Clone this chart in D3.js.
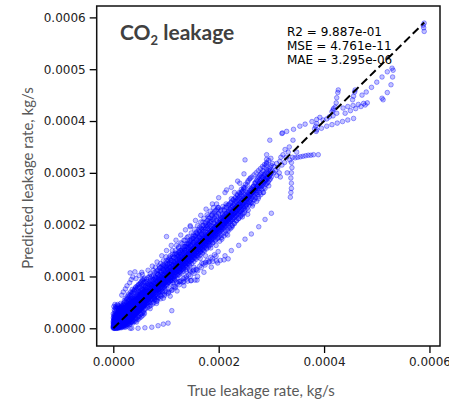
<!DOCTYPE html>
<html>
<head>
<meta charset="utf-8">
<script src="https://cdn.jsdelivr.net/npm/d3@7"></script>
<style>
html,body{margin:0;padding:0;background:#fff;}
svg{display:block;}
</style>
</head>
<body>
<svg id="chart" width="449" height="404"></svg>
<script>
// ---- data (values in 1e-6 kg/s, flat x,y pairs) ----
const coreNearOrigin = [
0,0,0,2,0,5,0,9,0,14,0,20,1,1,1,3,1,7,1,11,1,16,1,24,2,0,2,2,2,4,2,8,2,13,2,18,2,27,3,1,3,3,3,6,3,10,3,15,3,21,4,2,4,4,4,7,4,12,4,17,4,30,5,1,5,3,5,5,5,9,5,14,5,19,5,25,6,2,6,4,6,7,6,11,6,16,6,22,6,35,7,3,7,5,7,8,7,12,7,18,7,28,8,2,8,4,8,7,8,10,8,14,8,20,8,26,9,3,9,6,9,9,9,12,9,16,9,23,9,38,10,4,10,6,10,9,10,13,10,18,10,24,10,31,3,0,6,0,8,1,9,1,10,2,4,9,7,15,1,42,4,40,
11,5,11,8,11,11,11,14,11,19,11,27,12,4,12,7,12,10,12,13,12,17,12,22,12,33,13,6,13,9,13,12,13,15,13,20,13,26,14,5,14,8,14,11,14,14,14,18,14,24,14,40,15,7,15,10,15,13,15,16,15,21,15,29,16,6,16,9,16,12,16,15,16,19,16,25,16,34,17,8,17,11,17,14,17,17,17,22,17,28,18,7,18,10,18,13,18,17,18,20,18,26,18,44,19,9,19,12,19,15,19,18,19,23,19,31,20,8,20,11,20,14,20,17,20,21,20,27,20,36,13,2,16,3,19,5,15,45,
21,10,21,14,21,17,21,20,21,25,21,33,22,9,22,13,22,16,22,19,22,23,22,29,23,12,23,15,23,18,23,22,23,27,23,40,24,11,24,14,24,18,24,21,24,25,24,31,25,13,25,16,25,20,25,24,25,28,25,36,26,12,26,17,26,21,26,24,26,30,26,48,27,15,27,19,27,23,27,26,27,33,28,14,28,18,28,22,28,27,28,31,28,39,29,16,29,20,29,24,29,28,29,35,30,15,30,19,30,23,30,27,30,32,30,42,24,6,28,9
];
const originFill = [
0,3,1,6,2,10,0,12,3,17,1,19,2,23,4,26,0,28,3,33,5,38,2,36,6,13,7,20,4,22,8,30,6,28,9,34,5,43,7,41,10,37,8,46,3,46,11,41,12,38,9,44,13,30,14,33,11,23,15,35,12,29,16,42,17,38,18,33,19,40,14,48,20,45,21,40,22,37,23,45,24,42,25,50,26,40,27,44,28,47,29,52,30,56,31,48,32,54,33,60,34,57,35,64,21,54,24,58,27,62,29,66,33,70,36,75,38,68,40,72,42,78,44,74,46,82,48,85,50,80,52,88,54,84,56,92,58,95,60,90,16,64,19,70,23,76,26,82,31,88,34,94,37,99,43,96,49,102,55,104,
5,0,7,1,9,0,11,2,12,1,14,3,15,1,17,4,18,2,20,5,21,3,22,6,23,2,25,7,26,4,27,8,29,10,30,7,31,12,32,9,33,13,34,11,36,14,37,10,38,16,39,13,41,18,42,14,43,20,44,12,46,22,47,17,49,24,50,20,52,27,53,22,55,30,56,25,57,33,59,28,60,36,
1,2,2,5,3,4,4,6,5,7,6,9,7,9,8,11,9,10,10,11,11,12,12,15,13,14,14,16,15,18,16,17,17,19,18,22,19,20,20,22,21,23,22,25,23,24,24,27,25,26,26,28,27,29,28,30,29,31,30,33,31,32,32,35,33,34,34,37,35,36,36,39,37,38,38,41,39,40,40,43,41,42,42,45,43,44,44,47,45,46,46,49,47,48,48,51,49,50,50,53,51,52,52,55,53,54,54,57,55,56,56,59,57,58,58,61,59,60,60,63,
1,4,2,7,3,8,4,10,5,11,6,13,7,13,8,16,9,15,10,16,11,17,12,19,13,19,14,21,15,23,16,22,17,24,18,24,19,26,20,29,21,28,22,31,23,30,24,33,25,32,26,35,27,36,28,36,29,38,30,40,31,40,32,42,33,43,34,43,35,45,36,46,37,47,38,49,39,48,40,50,41,51,42,52,43,53,44,55,45,54,46,56,47,57,48,59,49,58,50,61,51,62,52,63,53,61,54,65,55,64,56,67,57,66,58,69,59,68,60,70,
2,1,4,5,6,8,8,9,10,7,12,11,14,12,16,14,18,15,20,18,22,20,24,22,26,23,28,25,30,26,32,28,34,30,36,31,38,33,40,35,42,37,44,39,46,40,48,42,50,44,52,46,54,48,56,50,58,51,60,54,3,12,5,16,7,22,9,27,11,31,13,35,15,39,17,43,19,47,21,50,23,52,25,55,27,57,29,60,31,63,33,65,35,68,37,70,39,73,41,75,43,80,45,77,47,79,49,84,51,86,53,90,55,94,57,88,59,97,
1,9,2,15,3,19,4,14,5,22,6,18,7,25,8,23,9,19,10,28,11,24,12,26,13,33,14,29,15,26,16,30,17,35,18,30,19,36,20,32,21,37,22,34,23,36,24,38,25,41,26,37,27,40,28,43,29,45,30,47,31,44,32,47,33,50,34,46,35,52,36,55,37,51,38,54,39,57,40,60,41,56,42,59,43,62,44,58,45,64,46,66,47,62,48,65,49,68,50,71,51,66,52,70,53,73,54,69,55,76,56,74,57,79,58,72,59,76,60,80
];
const coreLow = [
31,18,31,22,31,26,31,30,31,36,32,17,32,21,32,25,32,29,32,33,32,44,32,107,33,20,33,24,33,28,33,32,33,39,34,19,34,23,34,27,34,31,34,35,34,50,35,21,35,25,35,29,35,34,35,38,35,46,36,20,36,24,36,28,36,33,36,37,36,42,37,23,37,27,37,31,37,35,37,40,37,58,38,22,38,26,38,30,38,34,38,39,38,47,39,25,39,29,39,33,39,37,39,43,40,24,40,28,40,32,40,36,40,41,40,52,35,12,41,109,54,108,
41,27,41,31,41,35,41,39,41,45,42,26,42,30,42,34,42,38,42,43,42,55,43,29,43,33,43,37,43,41,43,48,44,28,44,32,44,36,44,40,44,45,44,62,45,31,45,35,45,39,45,43,45,50,46,30,46,34,46,38,46,42,46,47,46,57,47,33,47,37,47,41,47,45,47,52,48,32,48,36,48,40,48,44,48,49,48,70,49,35,49,39,49,43,49,47,49,54,50,34,50,38,50,42,50,46,50,51,50,60,44,18,48,22,
51,37,51,41,51,45,51,49,51,56,52,36,52,40,52,44,52,48,52,53,52,66,53,39,53,43,53,47,53,51,53,58,54,38,54,42,54,46,54,50,54,55,54,75,55,41,55,45,55,49,55,53,55,60,56,40,56,44,56,48,56,52,56,57,56,68,57,43,57,47,57,51,57,55,57,62,58,42,58,46,58,50,58,54,58,59,58,82,59,45,59,49,59,53,59,57,59,64,60,44,60,48,60,52,60,56,60,61,60,72,54,28,58,30
];
const coreMid = [
62,47,62,52,62,57,62,62,62,67,62,74,62,88,64,49,64,54,64,59,64,64,64,69,64,78,66,50,66,56,66,61,66,66,66,71,66,82,66,98,68,52,68,58,68,63,68,68,68,73,68,80,70,54,70,60,70,65,70,70,70,75,70,86,70,105,72,56,72,62,72,67,72,72,72,77,72,84,74,58,74,64,74,69,74,74,74,79,74,91,76,60,76,66,76,71,76,76,76,81,76,88,76,112,78,62,78,68,78,73,78,78,78,83,78,95,80,64,80,70,80,75,80,80,80,85,80,92,80,118,65,40,71,44,77,50,79,56,63,95,69,100,
82,66,82,72,82,77,82,82,82,87,82,97,84,68,84,74,84,79,84,84,84,90,84,104,86,70,86,76,86,81,86,86,86,92,86,99,88,72,88,78,88,83,88,88,88,94,88,110,90,74,90,80,90,85,90,90,90,96,90,103,90,125,92,76,92,82,92,87,92,92,92,98,92,108,94,78,94,84,94,89,94,94,94,100,94,115,96,80,96,86,96,91,96,96,96,102,96,110,98,82,98,88,98,93,98,98,98,104,98,120,100,84,100,90,100,95,100,100,100,106,100,114,100,138,85,58,91,62,97,66,99,72,87,120,95,130,
102,85,102,92,102,98,102,104,102,110,102,122,104,88,104,94,104,100,104,106,104,113,104,130,106,89,106,96,106,102,106,108,106,115,106,126,108,92,108,98,108,104,108,110,108,117,108,140,110,93,110,100,110,106,110,112,110,119,110,131,112,96,112,102,112,108,112,114,112,121,112,150,114,97,114,104,114,110,114,116,114,123,114,136,116,100,116,106,116,112,116,118,116,126,118,101,118,108,118,114,118,120,118,128,118,145,120,104,120,110,120,116,120,122,120,130,120,160,105,70,111,74,117,80,101,177
];
const midFill = [
61,58,63,66,65,60,67,70,69,64,71,78,73,68,75,82,77,72,79,86,81,76,83,90,85,80,87,94,89,84,91,99,93,88,95,104,97,92,99,108,101,96,103,113,105,100,107,118,109,104,111,123,113,108,115,128,117,112,119,133,121,116,123,138,125,120,127,143,129,124,131,148,133,128,135,153,137,132,139,158,141,136,143,163,145,140,147,168,149,144,151,173,153,148,155,178,157,152,159,183,161,156,163,188,165,160,167,193,169,164,171,198,173,168,175,203,177,172,179,208,181,176,183,213,185,180,187,218,189,184,191,223,193,188,195,228,197,192,199,233,
61,38,65,45,68,42,72,50,75,47,79,55,83,52,86,60,90,57,93,66,97,63,101,70,104,67,108,76,111,73,115,81,118,78,122,87,125,84,129,92,132,89,136,98,139,95,143,103,146,100,150,109,153,106,157,114,160,111,164,120,167,117,171,125,174,122,178,131,181,128,185,137,188,134,192,142,195,139,199,148,
61,82,64,90,67,85,70,96,73,92,76,102,79,98,82,110,85,104,88,116,91,111,94,122,97,118,100,130,103,124,106,136,109,131,112,143,115,137,118,150,121,143,124,157,127,150,130,163,133,157,136,170,139,163,142,177,145,170,148,184,151,177,154,191,157,184,160,198,163,191,166,205,169,198,172,212,175,205,178,219,181,212,184,226,187,219,190,233,193,226,196,240,199,233,
61,61,63,62,65,66,67,66,69,70,71,70,73,74,75,74,77,78,79,78,81,82,83,82,85,86,87,86,89,90,91,90,93,94,95,94,97,98,99,98,101,102,103,102,105,106,107,106,109,110,111,110,113,114,115,114,117,118,119,118,121,122,123,122,125,126,127,126,129,130,131,130,133,134,135,134,137,138,139,138,141,142,143,142,145,146,147,146,149,150,151,150,153,154,155,154,157,158,159,158,161,162,163,162,165,166,167,166,169,170,171,170,173,174,175,174,177,178,179,178,181,182,183,182,185,186,187,186,189,190,191,190,193,194,195,194,197,198,199,198,
63,71,66,54,68,88,71,62,74,84,77,58,80,99,82,61,85,95,88,70,90,108,93,79,95,113,98,76,101,118,103,88,106,124,109,92,111,98,114,129,116,95,119,136,122,102,124,140,127,108,130,146,133,115,135,150,138,118,141,156,144,123,146,160,149,131,152,166,155,135,158,170,160,140,163,176,166,146,168,181,171,150,174,186,177,155,180,192,182,160,185,197,188,165,191,203,194,171,196,208,199,175,
66,112,74,120,83,128,92,140,101,150,110,160,119,170,128,180,137,190,146,198,156,208,166,218,176,230,188,240,200,252,212,262,224,272,236,284,248,298,
70,38,82,48,95,58,108,62,121,72,134,82,147,92,160,100,172,108,186,118,198,126,212,140,224,150,238,160,250,172,262,182,276,196,288,210,300,222
];
const bandExtra = [
62,79,63,50,64,73,65,86,67,59,68,77,69,49,70,91,71,83,72,64,73,101,74,55,75,69,76,94,77,87,78,59,79,108,80,73,81,95,82,53,83,106,84,62,85,112,86,74,87,101,88,64,89,117,90,70,91,88,92,119,93,71,94,104,95,86,96,122,97,79,98,113,99,90,100,126,101,82,102,116,103,95,104,132,105,90,106,120,107,98,108,134,109,86,110,127,111,105,112,138,113,92,114,121,115,101,116,142,117,93,118,124,119,108,120,144,
121,97,122,128,123,111,124,147,125,103,126,132,127,115,128,150,129,106,130,137,131,119,132,154,133,110,134,141,135,124,136,158,137,113,138,146,139,127,140,162,141,118,142,149,143,131,144,166,145,121,146,153,147,135,148,170,149,125,150,157,151,139,152,174,153,129,154,161,155,143,156,178,157,133,158,165,159,147,160,182,161,137,162,169,163,151,164,186,165,141,166,173,167,155,168,190,169,145,170,177,171,159,172,194,173,149,174,181,175,163,176,198,177,153,178,185,179,167,180,202,181,157,182,189,183,171,184,206,185,161,186,193,187,175,188,210,189,165,190,197,191,179,192,214,193,169,194,201,195,183,196,218,197,173,198,205,199,187,200,222,
201,177,202,210,203,190,204,226,205,180,206,214,207,194,208,229,209,184,210,218,211,198,212,233,213,188,214,222,215,202,216,237,217,191,218,226,219,206,220,240,221,195,222,230,223,210,224,244,225,199,226,234,227,214,228,248,229,203,230,238,231,218,232,252,233,207,234,242,235,222,236,256,237,211,238,246,239,226,240,260,241,215,242,250,243,230,244,264,245,219,246,254,247,234,248,268,249,223,250,258,252,238,254,262,256,228,258,266,260,242,262,270,264,236,266,274,268,248,270,280,272,245,274,284,276,254,278,288,280,258,282,292,284,262,286,296,288,270,290,292,292,280,294,298,296,286,298,304,300,292
];
const coreUpper = [
122,105,122,112,122,118,122,124,122,132,122,141,124,108,124,114,124,120,124,126,124,134,124,155,126,109,126,116,126,122,126,128,126,136,126,146,128,112,128,118,128,124,128,130,128,138,128,165,130,113,130,120,130,126,130,132,130,140,130,151,132,116,132,122,132,128,132,134,132,143,134,117,134,124,134,130,134,136,134,145,134,170,136,120,136,126,136,132,136,138,136,147,136,158,138,121,138,128,138,134,138,140,138,150,140,124,140,130,140,136,140,142,140,152,140,175,125,90,133,96,139,100,
142,125,142,132,142,138,142,144,142,153,142,163,144,128,144,134,144,140,144,146,144,156,146,129,146,136,146,142,146,148,146,158,146,196,148,132,148,138,148,144,148,150,148,160,148,172,150,133,150,140,150,146,150,152,150,162,152,136,152,142,152,148,152,154,152,165,152,180,154,137,154,144,154,150,154,156,154,167,156,140,156,146,156,152,156,158,156,169,158,141,158,148,158,154,158,160,158,172,158,186,160,144,160,150,160,156,160,162,160,174,145,112,153,118,
162,145,162,152,162,158,162,164,162,176,164,148,164,154,164,160,164,166,164,178,164,195,166,149,166,156,166,162,166,168,166,181,168,152,168,158,168,164,168,170,168,183,170,153,170,160,170,166,170,172,170,186,170,205,172,156,172,162,172,168,172,174,172,188,174,157,174,164,174,170,174,176,174,191,176,160,176,166,176,172,176,178,176,193,178,161,178,168,178,174,178,180,178,196,180,164,180,170,180,176,180,182,180,198,180,215,165,135,175,140,
182,166,182,172,182,178,182,185,182,200,184,168,184,174,184,180,184,187,184,203,186,170,186,176,186,182,186,189,186,206,188,172,188,178,188,184,188,191,188,222,190,174,190,180,190,186,190,193,190,209,192,176,192,182,192,188,192,195,192,212,194,178,194,184,194,190,194,197,196,180,196,186,196,192,196,199,196,216,198,182,198,188,198,194,198,201,198,230,200,184,200,190,200,196,200,204,200,220,185,155,195,160
];
const coreTop = [
202,186,202,193,202,200,202,207,204,188,204,195,204,202,204,210,204,228,206,190,206,197,206,204,206,212,208,192,208,199,208,206,208,214,208,235,210,194,210,201,210,208,210,216,212,196,212,203,212,210,212,219,214,198,214,205,214,212,214,221,214,240,216,200,216,207,216,214,216,223,218,202,218,209,218,216,218,225,220,204,220,211,220,218,220,227,215,267,205,175,217,180,
222,206,222,213,222,220,222,230,224,208,224,215,224,222,224,233,224,250,226,210,226,218,226,225,226,236,228,212,228,220,228,228,228,239,230,214,230,222,230,230,230,242,230,262,232,216,232,224,232,232,232,245,234,218,234,226,234,234,234,247,236,220,236,228,236,236,236,250,238,222,238,231,238,239,238,252,240,225,240,233,240,241,240,255,240,280,225,195,
242,226,242,235,242,243,242,258,244,228,244,237,244,246,244,262,246,230,246,239,246,248,246,265,248,232,248,242,248,251,248,270,250,235,250,244,250,253,250,272,250,325,252,237,252,246,252,256,254,240,254,249,254,258,254,276,256,242,256,251,256,261,256,285,258,244,258,253,258,263,260,247,260,256,260,266,260,290,245,215,255,220,
262,250,262,259,262,268,264,252,264,262,264,272,266,255,266,264,266,274,268,258,268,268,268,280,270,260,270,270,270,282,272,262,272,273,272,286,274,265,274,276,274,290,276,268,276,279,276,292,278,270,278,282,278,295,280,273,280,285,280,298,282,275,282,288,282,300,284,278,284,291,284,304,286,281,286,294,286,310,288,284,288,297,290,287,290,300,290,315,291,306,291,318,291,326,291,335,292,290,292,302,294,292,294,305,296,295,296,308,298,297,298,311,300,300,300,314,302,303,302,318,297,363,265,240,275,250,285,262,295,275
];
const topFill = [
201,198,203,212,205,194,207,220,209,203,211,228,213,207,215,234,217,212,219,238,221,216,223,242,225,220,227,248,229,224,231,252,233,229,235,258,237,233,239,262,241,237,243,268,245,241,247,272,249,246,251,278,253,250,255,282,257,254,259,288,261,258,263,292,265,262,267,296,269,266,271,300,273,270,275,304,277,274,279,308,281,278,283,312,285,282,287,316,289,286,291,320,293,290,295,324,297,294,299,328,
202,168,206,172,210,178,214,182,218,188,222,192,226,198,230,202,234,208,238,212,242,218,246,222,250,228,254,232,258,238,262,242,266,248,270,252,274,258,278,262,282,268,286,272,290,278,294,282,298,288,
203,203,207,207,211,211,215,215,219,219,223,223,227,227,231,231,235,235,239,239,243,243,247,247,251,251,255,255,259,259,263,263,267,267,271,271,275,275,279,279,283,283,287,287
];
const highRange = [
305,300,305,312,308,305,310,295,310,318,312,310,315,300,316,322,317,292,318,330,320,315,320,376,321,377,322,335,325,320,326,345,328,330,329,380,330,300,332,340,334,350,335,325,336,253,337,262,338,270,338,280,337,290,338,300,339,310,338,320,340,330,341,363,342,384,345,329,348,340,350,330,354,390,355,331,360,332,364,394,365,333,370,334,375,334,377,399,380,335,385,380,386,403,384,390,386,395,389,335,392,407,382,385,398,402,405,404,410,408,417,410,424,415,417,421,418,424,415,418,421,427,423,435,424,445,426,455,427,460,436,425,445,428,455,430,465,432,475,434,482,435,440,415,450,420,460,424,470,428,478,431,454,441,456,448,458,456,459,460,472,450,480,456,490,465,500,475,510,485,520,495,529,502,510,444,512,441,520,455,527,470,530,485,531,498,590,573,589,580,590,589,588,585,
386,383,395,386,405,390,415,393,425,396,435,399,445,402,456,405
];
const lowStreaks = [
168,126,175,127,182,128,189,129,196,130,203,131,210,132,218,134,
113,88,120,89,127,90,134,90,141,91,148,92,155,93,159,93,
139,109,146,110,152,112,158,113,
32,0,35,0,47,0,60,1,73,2,85,5,95,8,104,10,111,34
];
const xTicks = [0, 0.0002, 0.0004, 0.0006];
const yTicks = [0, 0.0001, 0.0002, 0.0003, 0.0004, 0.0005, 0.0006];
const fitLine = [[0, 0], [0.00059, 0.00059]];
const statLines = ["R2 = 9.887e-01", "MSE = 4.761e-11", "MAE = 3.295e-06"];

// ---- build points ----
const groups = [coreNearOrigin, originFill, coreLow, coreMid, midFill, bandExtra, coreUpper, coreTop, topFill, highRange, lowStreaks];
const points = [];
groups.forEach(g => { for (let i = 0; i + 1 < g.length; i += 2) points.push([g[i] * 1e-6, g[i + 1] * 1e-6]); });

const svg = d3.select("#chart");
const L = 96.7, R = 440, T = 6, B = 346;
const x = d3.scaleLinear().domain([-0.0000315, 0.00062]).range([L, R]);
const y = d3.scaleLinear().domain([-0.0000342, 0.000622]).range([B, T]);

svg.append("defs").append("clipPath").attr("id", "plotclip")
  .append("rect").attr("x", L).attr("y", T).attr("width", R - L).attr("height", B - T);

svg.append("g").attr("clip-path", "url(#plotclip)")
  .selectAll("circle").data(points).join("circle")
  .attr("cx", d => x(d[0])).attr("cy", d => y(d[1])).attr("r", 2.3)
  .attr("fill", "#0000ff").attr("fill-opacity", 0.24)
  .attr("stroke", "#0000ff").attr("stroke-opacity", 0.42).attr("stroke-width", 0.9);

svg.append("path").datum(fitLine)
  .attr("d", d3.line().x(d => x(d[0])).y(d => y(d[1])))
  .attr("fill", "none").attr("stroke", "#000").attr("stroke-width", 2)
  .attr("stroke-dasharray", "8,4");

// axes
const xAxis = d3.axisBottom(x).tickValues(xTicks).tickFormat(d3.format(".4f")).tickSizeOuter(0).tickSize(7).tickPadding(4);
const yAxis = d3.axisLeft(y).tickValues(yTicks).tickFormat(d3.format(".4f")).tickSizeOuter(0).tickSize(7).tickPadding(4);
const gx = svg.append("g").attr("transform", `translate(0,${B})`).call(xAxis);
const gy = svg.append("g").attr("transform", `translate(${L},0)`).call(yAxis);
[gx, gy].forEach(g => {
  g.select(".domain").remove();
  g.selectAll(".tick line").attr("stroke", "#000").attr("stroke-width", 1.3);
  g.selectAll(".tick text").attr("font-family", "DejaVu Sans").attr("font-size", 12).attr("fill", "#222");
});

svg.append("rect").attr("x", L).attr("y", T).attr("width", R - L).attr("height", B - T)
  .attr("fill", "none").attr("stroke", "#111").attr("stroke-width", 1.5);

// title
const title = svg.append("text").attr("x", 120).attr("y", 40)
  .attr("font-family", "Lato").attr("font-weight", "bold").attr("font-size", 21).attr("fill", "#404040");
title.append("tspan").text("CO");
title.append("tspan").attr("font-size", 13).attr("dy", 5).text("2");
title.append("tspan").attr("dy", -5).text(" leakage");

// stats
svg.append("g").selectAll("text").data(statLines).join("text")
  .attr("x", 287).attr("y", (d, i) => 35.5 + i * 14.3)
  .attr("font-family", "DejaVu Sans").attr("font-size", 12).attr("fill", "#000")
  .text(d => d);

// axis titles
svg.append("text").attr("x", 261).attr("y", 396).attr("text-anchor", "middle")
  .attr("font-family", "Lato").attr("font-size", 15).attr("fill", "#595959")
  .text("True leakage rate, kg/s");
svg.append("text").attr("transform", "translate(33,178) rotate(-90)").attr("text-anchor", "middle")
  .attr("font-family", "Lato").attr("font-size", 15).attr("fill", "#595959")
  .text("Predicted leakage rate, kg/s");
</script>
</body>
</html>
